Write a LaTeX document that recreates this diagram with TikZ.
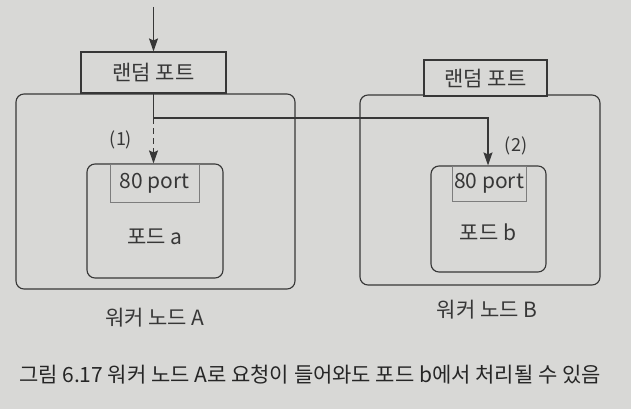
\documentclass[tikz,border=0pt]{standalone}
\usepackage{fontspec}
\setmainfont{Noto Sans CJK KR}
\usetikzlibrary{arrows.meta}
\definecolor{bg}{RGB}{216,216,214}
\definecolor{ink}{RGB}{55,55,55}
\definecolor{thin}{RGB}{125,125,125}
\tikzset{
  box/.style={draw=ink, line width=1.15pt, rounded corners=8pt, inner sep=0pt},
  portbox/.style={draw=ink, line width=1.15pt, inner sep=0pt},
  innerport/.style={draw=thin, line width=0.7pt, inner sep=0pt},
  lbl/.style={text=ink, font=\fontsize{21}{23}\selectfont, inner sep=0pt},
  small/.style={text=ink, font=\fontsize{18}{20}\selectfont, inner sep=0pt},
  arr/.style={draw=ink, line width=1.15pt, -{Stealth[length=13pt,width=9pt,inset=2pt]}},
  conn/.style={draw=ink, line width=1.15pt},
}
\begin{document}
\begin{tikzpicture}[x=1pt,y=-1pt]
\fill[bg] (0,0) rectangle (631,409);
\useasboundingbox (0,0) rectangle (631,409);
% worker A
\node[box, minimum width=279pt, minimum height=195pt] (wa) at (155.5,191.5) {};
\node[portbox, fill=bg, minimum width=145pt, minimum height=41pt, lbl] (rpa) at (153.5,72.5) {랜덤 포트};
\node[box, minimum width=136pt, minimum height=114pt] (pa) at (155,221) {};
\node[innerport, minimum width=89pt, minimum height=38pt, lbl] (ppa) at (154.5,183) {80 port};
\node[lbl] (pal) at (155,237) {포드 a};
\node[lbl] (wal) at (155,318) {워커 노드 A};
% worker B
\node[box, minimum width=240pt, minimum height=190pt] (wb) at (480,190) {};
\node[portbox, fill=bg, minimum width=123pt, minimum height=36pt, lbl] (rpb) at (485.5,78) {랜덤 포트};
\node[box, minimum width=115pt, minimum height=106pt] (pb) at (488.5,219) {};
\node[innerport, minimum width=74pt, minimum height=35pt, lbl] (ppb) at (489,183.5) {80 port};
\node[lbl] (pbl) at (488,232) {포드 b};
\node[lbl] (wbl) at (487,310) {워커 노드 B};
% connectors
\coordinate (in) at (153.5,7);
\coordinate (j) at (153.5,118);
\coordinate (k) at (488,118);
\draw[arr] (in) -- (rpa.north);
\draw[conn] (rpa.south) -- (j);
\draw[arr, dash pattern=on 6pt off 4pt] (j) -- (j |- pa.north);
\draw[arr] (j) -- (k) -- (k |- pb.north);
\node[small] (l1) at (121,140) {(1)};
\node[small] (l2) at (516,146) {(2)};
% caption
\node[lbl, text=black!85] (cap) at (310,375) {그림 6.17 워커 노드 A로 요청이 들어와도 포드 b에서 처리될 수 있음};
\end{tikzpicture}
\end{document}
